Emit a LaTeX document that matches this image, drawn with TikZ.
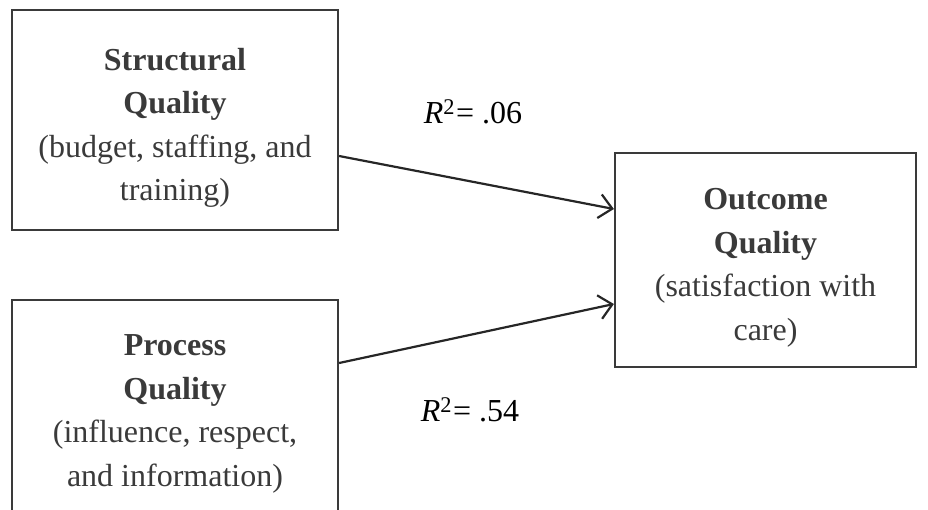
\documentclass[tikz,border=0pt]{standalone}
\usepackage{fontspec}
\setmainfont{Liberation Serif}
\usetikzlibrary{arrows.meta,calc}
\definecolor{ink}{HTML}{3A3A3A}
\tikzset{
  qbox/.style={draw=ink, line width=2.2pt, inner sep=0pt},
  qtext/.style={text=ink, align=center, font=\fontsize{32}{43.5}\selectfont, inner sep=0pt},
  rlab/.style={text=black, font=\fontsize{32}{38}\selectfont, inner sep=0pt},
  link/.style={draw=black!85, line width=2.2pt, -{Straight Barb[length=13pt,width=24pt,line width=2.2pt]}}
}
\begin{document}
\begin{tikzpicture}[x=1pt,y=1pt]
\useasboundingbox (0,0) rectangle (928,-509);
\node[qbox, minimum width=326pt, minimum height=220pt] (s) at (175,-120) {};
\node[qtext] (st) at (175,-128) {\textbf{Structural}\\\textbf{Quality}\\(budget, staffing, and\\training)};
\node[qbox, minimum width=326pt, minimum height=240pt] (p) at (175,-420) {};
\node[qtext] (pt) at (175,-414) {\textbf{Process}\\\textbf{Quality}\\(influence, respect,\\and information)};
\node[qbox, minimum width=301pt, minimum height=214pt] (o) at (765.5,-260) {};
\node[qtext] (ot) at (765.5,-268) {\textbf{Outcome}\\\textbf{Quality}\\(satisfaction with\\care)};
\draw[link] ([yshift=-36pt]s.east) -- ([yshift=51pt]o.west);
\draw[link] ([yshift=57pt]p.east) -- ([yshift=-44pt]o.west);
\node[rlab] (r1) at (473,-112) {\textit{R}\textsuperscript{2}\kern1pt= .06};
\node[rlab] (r2) at (470,-410) {\textit{R}\textsuperscript{2}\kern1pt= .54};
\end{tikzpicture}
\end{document}
